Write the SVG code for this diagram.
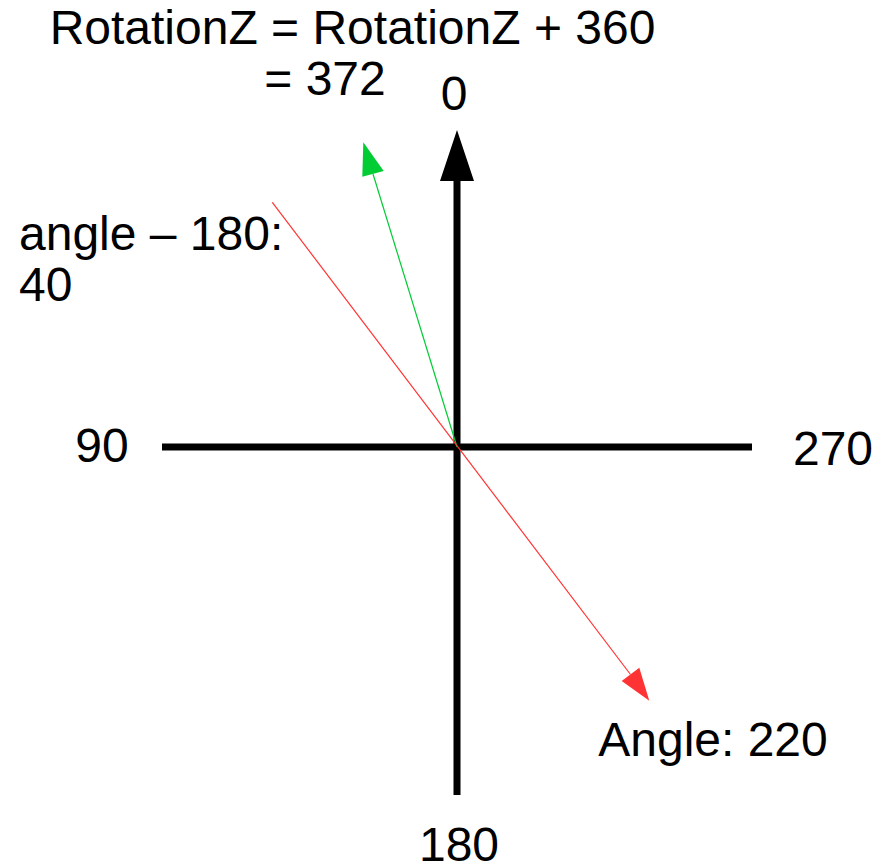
<svg xmlns="http://www.w3.org/2000/svg" width="896" height="865" viewBox="0 0 896 865">
<style>
text{font-family:"Liberation Sans",Arial,sans-serif;font-size:48px;fill:#000}
.axis{stroke:#000;stroke-width:7;fill:none}
.g{stroke:#00cc33;stroke-width:1.2;fill:none}
.r{stroke:#ff3333;stroke-width:1.2;fill:none}
</style>
<rect width="896" height="865" fill="#fff"/>
<g id="connectors">
<line class="axis" x1="162" y1="447" x2="752" y2="447"/>
<line class="axis" x1="457" y1="176" x2="457" y2="795"/>
<polygon points="457,130 474,181 440,181" fill="#000"/>
<line class="g" x1="457" y1="447" x2="373" y2="174"/>
<polygon points="363.3,142.3 383.7,171 362.3,176.7" fill="#00cc33"/>
<line class="r" x1="272.3" y1="202.3" x2="630.5" y2="674.5"/>
<polygon points="649.3,700.7 621.7,681 639.3,667.7" fill="#ff3333"/>
</g>
<g id="label-rotation">
<text x="352.5" y="43.5" text-anchor="middle">RotationZ = RotationZ + 360</text>
<text x="325" y="95" text-anchor="middle">= 372</text>
</g>
<g id="label-0"><text x="454" y="109.5" text-anchor="middle">0</text></g>
<g id="label-angle180">
<text x="19" y="250">angle – 180:</text>
<text x="19" y="301">40</text>
</g>
<g id="label-90"><text x="102" y="462" text-anchor="middle">90</text></g>
<g id="label-270"><text x="833" y="465" text-anchor="middle">270</text></g>
<g id="label-angle220"><text x="713" y="756" text-anchor="middle">Angle: 220</text></g>
<g id="label-180"><text x="459" y="861" text-anchor="middle">180</text></g>
</svg>
